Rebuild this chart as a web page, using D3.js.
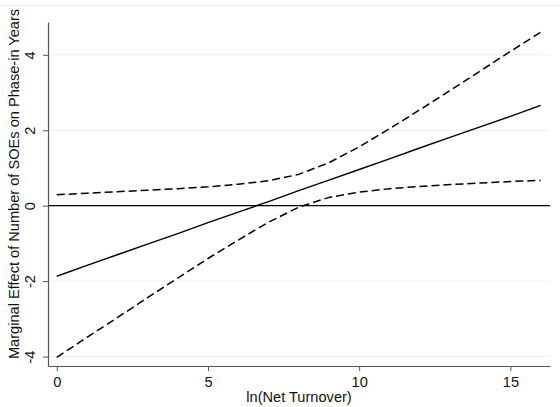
<!DOCTYPE html>
<html>
<head>
<meta charset="utf-8">
<script src="https://cdn.jsdelivr.net/npm/d3@7"></script>
<style>
  html, body { margin: 0; padding: 0; background: #fff; }
  svg { display: block; font-family: "Liberation Sans", Arial, sans-serif; }
</style>
</head>
<body>
<div id="chart"></div>
<script>
// values, ln(net turnover) 0..16
const turnover = [0, 1, 2, 3, 4, 5, 6, 7, 8, 9, 10, 11, 12, 13, 14, 15, 16];
const effect = [-1.87, -1.58, -1.30, -1.02, -0.74, -0.45, -0.17, 0.11, 0.40, 0.68, 0.96, 1.24, 1.53, 1.81, 2.09, 2.37, 2.66];
const upperCI = [0.29, 0.33, 0.37, 0.41, 0.45, 0.50, 0.57, 0.66, 0.83, 1.14, 1.56, 2.04, 2.54, 3.05, 3.57, 4.09, 4.60];
const lowerCI = [-4.02, -3.49, -2.97, -2.44, -1.92, -1.40, -0.91, -0.44, -0.04, 0.22, 0.36, 0.45, 0.51, 0.56, 0.60, 0.64, 0.67];

const xTicks = [0, 5, 10, 15];
const yTicks = [-4, -2, 0, 2, 4];
const xTitle = "ln(Net Turnover)";
const yTitle = "Marginal Effect of Number of SOEs on Phase-in Years";

const width = 560, height = 407;
const plot = { left: 48, right: 550, top: 22, bottom: 366 };
const fontSize = "14.6px";

const svg = d3.select("#chart")
  .append("svg")
  .attr("width", width)
  .attr("height", height);

const x = d3.scaleLinear().domain([-0.29, 16.31]).range([plot.left, plot.right]);
const y = d3.scaleLinear().domain([-4.25, 4.87]).range([plot.bottom, plot.top]);

// faint frame line at the top of the graph region
svg.append("line")
  .attr("x1", 0).attr("x2", width)
  .attr("y1", 5.5).attr("y2", 5.5)
  .attr("stroke", "#eaf2f3")
  .attr("stroke-width", 1);

// gridlines
svg.append("g")
  .selectAll("line")
  .data(yTicks)
  .join("line")
  .attr("x1", plot.left).attr("x2", plot.right)
  .attr("y1", d => y(d)).attr("y2", d => y(d))
  .attr("stroke", "#eaf2f3")
  .attr("stroke-width", 1);

// axes
const xAxis = svg.append("g")
  .attr("transform", `translate(0,${plot.bottom})`)
  .call(d3.axisBottom(x).tickValues(xTicks).tickSize(5).tickPadding(6).tickSizeOuter(0));

const yAxis = svg.append("g")
  .attr("transform", `translate(${plot.left},0)`)
  .call(d3.axisLeft(y).tickValues(yTicks).tickSize(5).tickSizeOuter(0)
    .tickFormat(d => d < 0 ? "-" + Math.abs(d) : d));

[xAxis, yAxis].forEach(g => {
  g.select(".domain").attr("stroke", "#555").attr("stroke-width", 1.2);
  g.selectAll(".tick line").attr("stroke", "#555").attr("stroke-width", 1);
  g.selectAll("text")
    .attr("fill", "#111")
    .style("font-size", fontSize)
    .style("font-family", "'Liberation Sans', Arial, sans-serif");
});

// y tick labels are rotated, Stata style
yAxis.selectAll(".tick text")
  .attr("x", null).attr("dy", null)
  .attr("text-anchor", "middle")
  .attr("transform", "translate(-13,0) rotate(-90)");

// zero reference line
svg.append("line")
  .attr("x1", plot.left).attr("x2", plot.right)
  .attr("y1", y(0)).attr("y2", y(0))
  .attr("stroke", "#000")
  .attr("stroke-width", 1.3);

const line = vals => d3.line()
  .x((d, i) => x(turnover[i]))
  .y(d => y(d))(vals);

svg.append("path")
  .attr("d", line(upperCI))
  .attr("fill", "none")
  .attr("stroke", "#000")
  .attr("stroke-width", 1.5)
  .attr("stroke-dasharray", "8,4");

svg.append("path")
  .attr("d", line(lowerCI))
  .attr("fill", "none")
  .attr("stroke", "#000")
  .attr("stroke-width", 1.5)
  .attr("stroke-dasharray", "8,4");

svg.append("path")
  .attr("d", line(effect))
  .attr("fill", "none")
  .attr("stroke", "#000")
  .attr("stroke-width", 1.4);

// axis titles
svg.append("text")
  .attr("x", (plot.left + plot.right) / 2)
  .attr("y", 402)
  .attr("text-anchor", "middle")
  .style("font-size", fontSize)
  .attr("fill", "#111")
  .text(xTitle);

svg.append("text")
  .attr("transform", `translate(19,${(plot.top + plot.bottom) / 2 - 10}) rotate(-90)`)
  .attr("text-anchor", "middle")
  .style("font-size", fontSize)
  .attr("fill", "#111")
  .text(yTitle);
</script>
</body>
</html>
